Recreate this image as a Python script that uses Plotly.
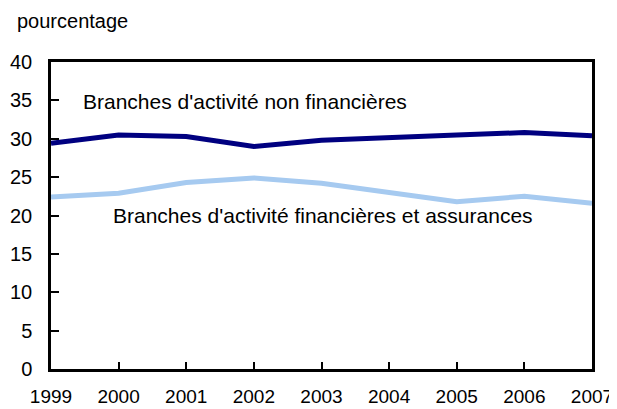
import plotly.graph_objects as go

years = [1999, 2000, 2001, 2002, 2003, 2004, 2005, 2006, 2007]
non_fin = [29.4, 30.5, 30.3, 29.0, 29.8, 30.2, 30.5, 30.8, 30.4]
fin_ins = [22.4, 22.9, 24.3, 24.9, 24.2, 23.0, 21.8, 22.5, 21.6]
label_non_fin = "Branches d'activité non financières"
label_fin = "Branches d'activité financières et assurances"
y_ticks = [0, 5, 10, 15, 20, 25, 30, 35, 40]

FONT = "Liberation Sans, Arial, Helvetica, sans-serif"
OFF = 8  # default page body margin
W, H = 617, 409 - OFF
L, R, T, B = 51 - OFF, 25 + OFF, 62 - OFF, 40
PW, PH = W - L - R, H - T - B

fig = go.Figure()
fig.add_trace(go.Scatter(x=years, y=non_fin, mode="lines",
                         line=dict(color="#000080", width=5), name=label_non_fin))
fig.add_trace(go.Scatter(x=years, y=fin_ins, mode="lines",
                         line=dict(color="#A6CAF0", width=5), name=label_fin))

fig.add_annotation(x=1999.44, y=34.8, xref="x", yref="y", text=label_non_fin,
                   showarrow=False, xanchor="left", yanchor="middle",
                   font=dict(size=21, color="black", family=FONT))
fig.add_annotation(x=1999.88, y=20.0, xref="x", yref="y", text=label_fin,
                   showarrow=False, xanchor="left", yanchor="middle",
                   font=dict(size=21, color="black", family=FONT))
fig.add_annotation(xref="paper", yref="paper",
                   x=(15 - OFF - L) / PW, y=(H - B - (21 - OFF)) / PH,
                   text="pourcentage", showarrow=False, xanchor="left", yanchor="middle",
                   font=dict(size=20, color="black", family=FONT))

fig.update_layout(
    width=W, height=H,
    margin=dict(l=L, r=R, t=T, b=B, autoexpand=False),
    paper_bgcolor="white", plot_bgcolor="white",
    showlegend=False,
    font=dict(family=FONT, size=20, color="black"),
)

fig.update_xaxes(range=[1999, 2007], tickvals=years, ticktext=[str(y) for y in years],
                 ticks="inside", ticklen=7, tickwidth=2, tickcolor="black",
                 showline=True, linecolor="black", linewidth=2.5, mirror=True,
                 showgrid=False, zeroline=False, ticklabelstandoff=8, automargin=False,
                 tickfont=dict(size=19, family=FONT, color="black"))
fig.update_yaxes(range=[0, 40], tickvals=y_ticks,
                 ticks="inside", ticklen=8, tickwidth=2, tickcolor="black",
                 showline=True, linecolor="black", linewidth=2.5, mirror=True,
                 showgrid=False, zeroline=False, ticklabelstandoff=12, automargin=False,
                 tickfont=dict(size=20, family=FONT, color="black"))

fig.write_html("out.html")
